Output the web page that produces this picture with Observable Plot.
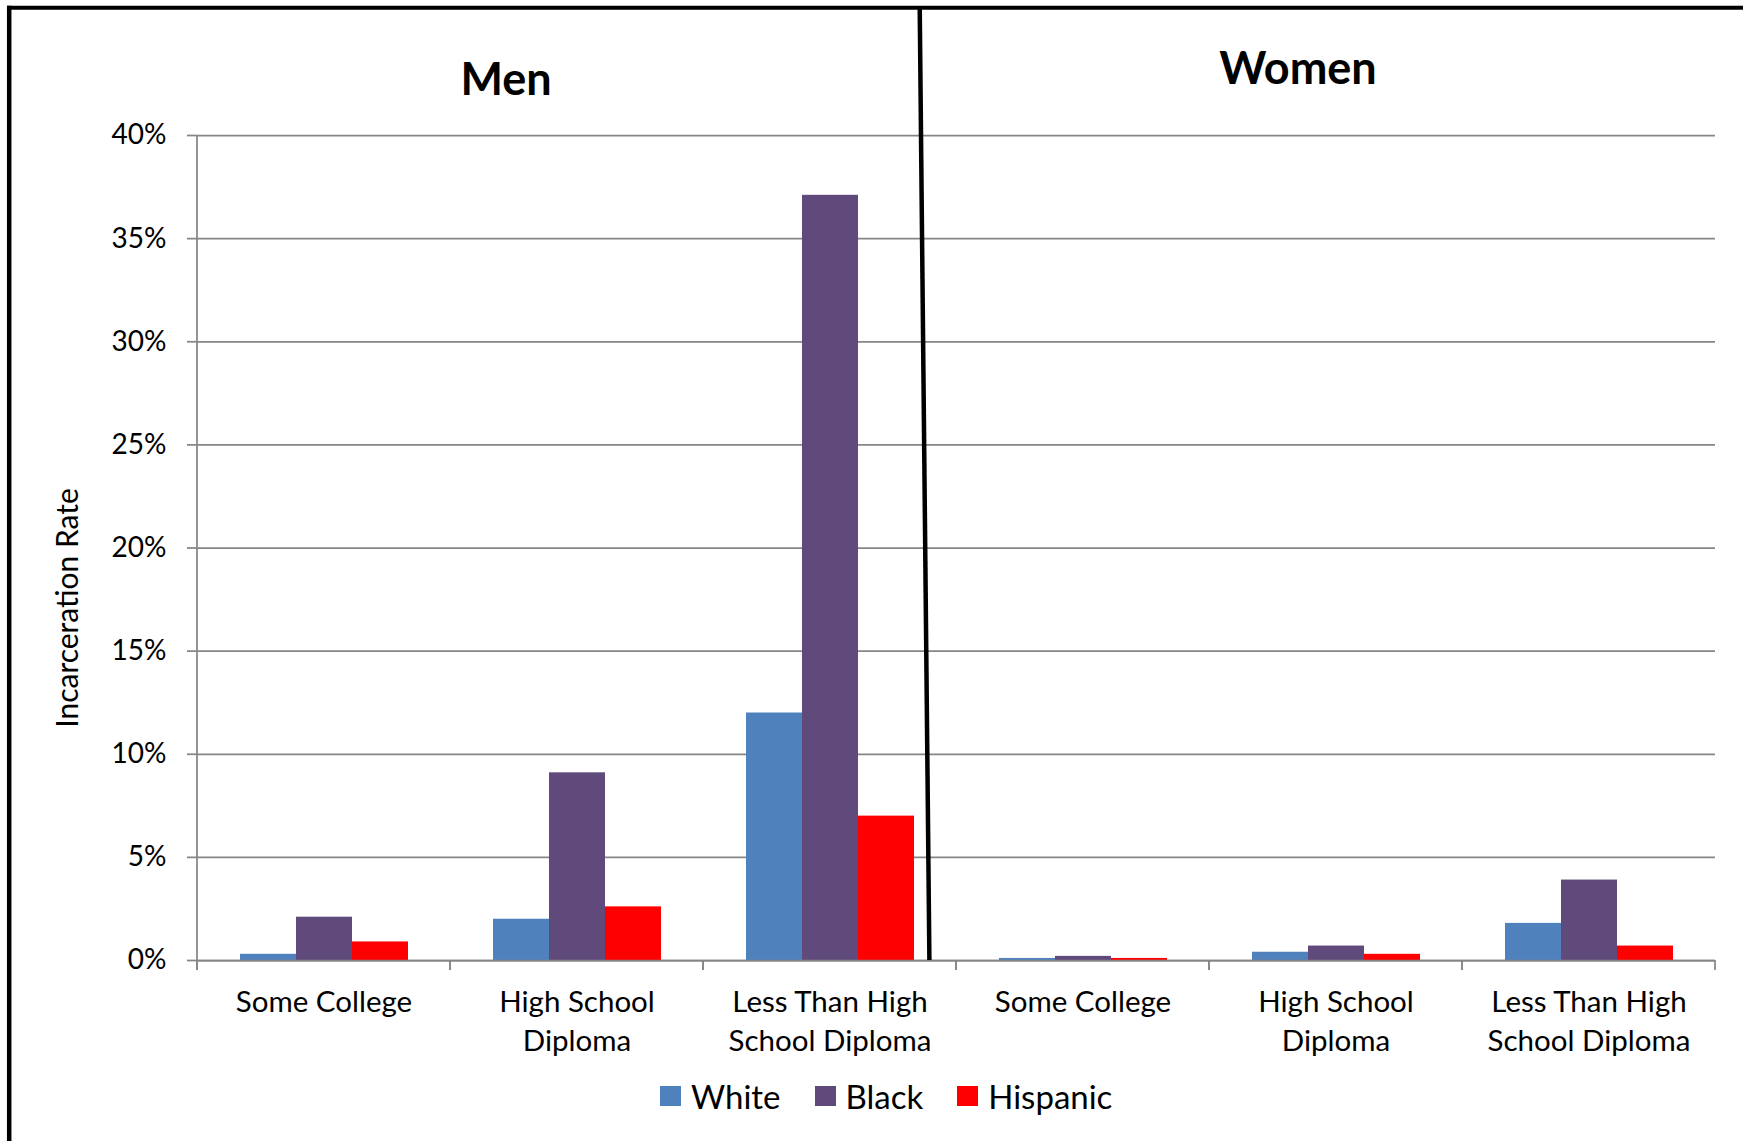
<!DOCTYPE html>
<html><head><meta charset="utf-8">
<script src="https://cdn.jsdelivr.net/npm/d3@7"></script>
<script src="https://cdn.jsdelivr.net/npm/@observablehq/plot@0.6"></script>
<style>
 body{margin:0;background:#fff;}
 #wrap{position:relative;width:1743px;height:1141px;overflow:hidden;background:#fff;font-family:Lato,sans-serif;}
 #chart{position:absolute;left:0;top:0;}
 #deco{position:absolute;left:0;top:0;pointer-events:none;}
 #legend{position:absolute;left:660px;top:1086px;display:flex;align-items:center;font-size:33px;line-height:20px;color:#000;}
 .item{display:flex;align-items:center;margin-right:34px;}
 .sw{width:21px;height:20px;margin-right:10px;}
</style></head>
<body><div id="wrap"><div id="chart"></div><svg id="deco" width="1743" height="1141"></svg><div id="legend"></div></div>
<script>
const groups = ["Men", "Women"];
const education = ["Some College", "High School Diploma", "Less Than High School Diploma"];
const educationLabels = ["Some College", "High School\nDiploma", "Less Than High\nSchool Diploma"];
const races = ["White", "Black", "Hispanic"];
const raceColors = ["#4F81BD", "#604A7B", "#FF0000"];
// incarceration rates in %, order: Men (Some College, HS Diploma, Less Than HS), Women (same)
const whiteRates = [0.3, 2.0, 12.0, 0.1, 0.4, 1.8];
const blackRates = [2.1, 9.1, 37.1, 0.2, 0.7, 3.9];
const hispanicRates = [0.9, 2.6, 7.0, 0.1, 0.3, 0.7];
const yTicks = [0, 5, 10, 15, 20, 25, 30, 35, 40];
const yLabel = "Incarceration Rate";

const cells = groups.flatMap(g => education.map((e, i) => ({group: g, edu: e, label: educationLabels[i], key: g + " · " + e})));
const seriesByRace = [whiteRates, blackRates, hispanicRates];
const data = cells.flatMap((c, i) => races.map((r, j) => ({...c, race: r, value: seriesByRace[j][i]})));
const labelByKey = new Map(cells.map(c => [c.key, c.label]));

const axisColor = "#868686";
let facetNo = 0;
function categoryTicks(index, {x, y}) {
  const [x0, x1] = x.range();
  const yb = y(0), yt = y(yTicks[yTicks.length - 1]);
  const g = d3.create("svg:g").attr("stroke", axisColor).attr("stroke-width", 1.75).attr("fill", "none");
  [x0, x1].forEach(px => g.append("line").attr("x1", px).attr("x2", px).attr("y1", yb).attr("y2", yb + 10));
  if (facetNo++ === 0) g.append("line").attr("x1", x0).attr("x2", x0).attr("y1", yt).attr("y2", yb + 10);
  return g.node();
}

const chart = Plot.plot({
  width: 1743, height: 1070,
  marginTop: 135, marginBottom: 110, marginLeft: 195, marginRight: 26,
  style: {fontFamily: "Lato, sans-serif", background: "transparent"},
  fx: {domain: cells.map(c => c.key), padding: 0, label: null},
  x: {domain: races, paddingInner: 0, paddingOuter: 0.75, axis: null},
  y: {domain: [0, 40], label: null},
  color: {domain: races, range: raceColors},
  marks: [
    Plot.gridY(yTicks, {stroke: axisColor, strokeOpacity: 1, strokeWidth: 1.75}),
    Plot.barY(data, {fx: "key", x: "race", y: "value", fill: "race"}),
    Plot.ruleY([0], {stroke: axisColor, strokeWidth: 1.75}),
    Plot.axisY(yTicks, {tickSize: 10, tickPadding: 21, tickFormat: d => d + "%", stroke: axisColor, strokeWidth: 1.75, fontSize: 28, fill: "#000", label: null}),
    Plot.axisFx({anchor: "bottom", tickSize: 0, tickPadding: 23.5, tickFormat: k => labelByKey.get(k), fontSize: 29.5, lineHeight: 1.33, fill: "#000", label: null}),
    categoryTicks
  ]
});
document.getElementById("chart").appendChild(chart);

const deco = d3.select("#deco");
deco.append("line").attr("x1", 7).attr("x2", 1743).attr("y1", 7.7).attr("y2", 7.7).attr("stroke", "#000").attr("stroke-width", 4);
deco.append("line").attr("x1", 9.2).attr("x2", 9.2).attr("y1", 5.7).attr("y2", 1141).attr("stroke", "#000").attr("stroke-width", 4.5);
deco.append("line").attr("x1", 919.7).attr("x2", 929.4).attr("y1", 6).attr("y2", 960).attr("stroke", "#000").attr("stroke-width", 4.5);
deco.append("text").text(groups[0]).attr("x", 506).attr("y", 95).attr("text-anchor", "middle")
  .attr("font-family", "Lato, sans-serif").attr("font-weight", "bold").attr("font-size", 45);
deco.append("text").text(groups[1]).attr("x", 1298).attr("y", 84).attr("text-anchor", "middle")
  .attr("font-family", "Lato, sans-serif").attr("font-weight", "bold").attr("font-size", 45);
deco.append("text").text(yLabel).attr("transform", "translate(77.5,608) rotate(-90)").attr("text-anchor", "middle")
  .attr("font-family", "Lato, sans-serif").attr("font-size", 30);

const legend = d3.select("#legend");
races.forEach((r, i) => {
  const it = legend.append("div").attr("class", "item");
  it.append("div").attr("class", "sw").style("background", raceColors[i]);
  it.append("span").text(r);
});
</script>
</body></html>
